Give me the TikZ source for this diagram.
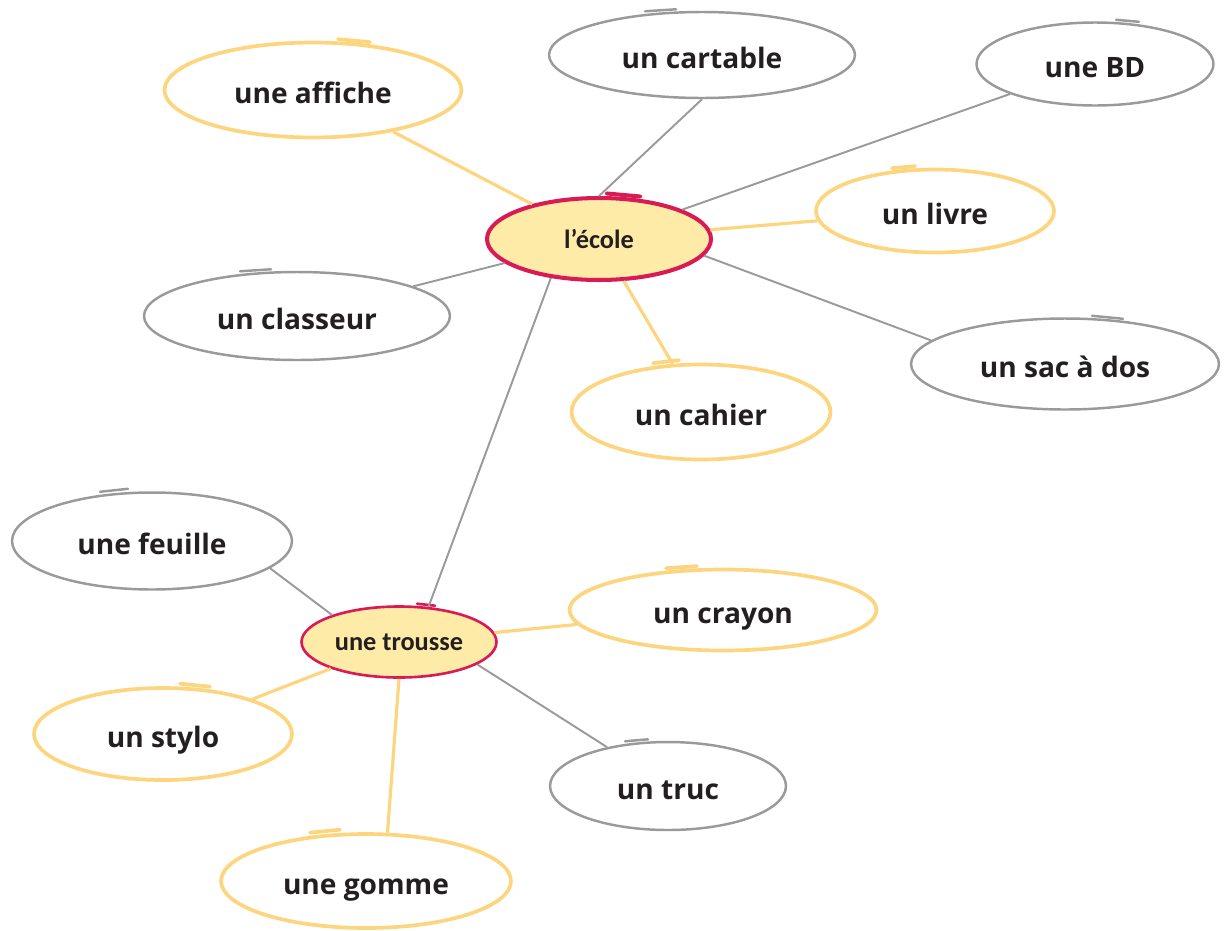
\documentclass[tikz,border=0pt]{standalone}
\usepackage{fontspec}
\usepackage{tikz}
\usetikzlibrary{shapes.geometric}

\setmainfont{Open Sans}
\newfontfamily\hubfont{Carlito}

\definecolor{leafyellow}{HTML}{FDD57E}
\definecolor{leafgray}{HTML}{9A9A9A}
\definecolor{hubred}{HTML}{D81B55}
\definecolor{hubfill}{HTML}{FEEBA8}
\definecolor{inkblack}{HTML}{231F20}

\tikzset{
  leaf/.style={ellipse,inner sep=0pt,text=inkblack,text height=15pt,text depth=0pt,font=\bfseries\fontsize{16}{16}\selectfont},
  yleaf/.style={leaf,draw=leafyellow,line width=2.1pt},
  gleaf/.style={leaf,draw=leafgray,line width=1.4pt},
  hub/.style={ellipse,inner sep=0pt,fill=hubfill,draw=hubred,text=inkblack,font=\hubfont\bfseries\fontsize{15}{15}\selectfont},
  yline/.style={leafyellow,line width=1.8pt},
  gline/.style={leafgray,line width=1.1pt},
}

% the second stroke where the hand-drawn loop closes
\newcommand{\curl}[6]{\draw[#1,line cap=round] (#2.north) ++(#3,#4) -- ++(#5,#6);}

\begin{document}
\begin{tikzpicture}[x=0.02cm,y=-0.02cm]
\useasboundingbox (0,0) rectangle (1226,930);

% centres
\node[hub,line width=2.3pt,minimum width=4.48cm,minimum height=1.64cm] (ecole) at (599,239) {l’école};
\node[hub,line width=1.5pt,minimum width=3.90cm,minimum height=1.42cm] (trousse) at (399,642) {une trousse};

% around l'école
\node[yleaf,minimum width=5.94cm,minimum height=1.90cm] (affiche) at (313,90) {une affiche};
\node[gleaf,minimum width=6.12cm,minimum height=1.72cm] (cartable) at (702,55) {un cartable};
\node[gleaf,minimum width=4.74cm,minimum height=1.66cm] (bd) at (1095,64) {une BD};
\node[yleaf,minimum width=4.76cm,minimum height=1.66cm] (livre) at (935,211) {un livre};
\node[gleaf,minimum width=6.12cm,minimum height=1.76cm] (classeur) at (297,316) {un classeur};
\node[gleaf,minimum width=6.16cm,minimum height=1.82cm] (sac) at (1065,364) {un sac à dos};
\node[yleaf,minimum width=5.18cm,minimum height=1.90cm] (cahier) at (701,412) {un cahier};

% around la trousse
\node[gleaf,minimum width=5.60cm,minimum height=1.94cm] (feuille) at (152,541) {une feuille};
\node[yleaf,minimum width=6.14cm,minimum height=1.62cm] (crayon) at (723,610) {un crayon};
\node[yleaf,minimum width=5.16cm,minimum height=1.84cm] (stylo) at (163,734) {un stylo};
\node[gleaf,minimum width=4.72cm,minimum height=1.76cm] (truc) at (668,786) {un truc};
\node[yleaf,minimum width=5.80cm,minimum height=1.88cm] (gomme) at (366,881) {une gomme};

\curl{hubred,line width=2.3pt}{ecole}{8}{-2.5}{33}{3}
\curl{hubred,line width=1.5pt}{trousse}{18}{-1.5}{18}{2}
\curl{leafyellow,line width=2.1pt}{affiche}{25}{-1.5}{32}{3}
\curl{leafgray,line width=1.4pt}{cartable}{-57}{0.5}{31}{-2}
\curl{leafgray,line width=1.4pt}{bd}{21}{-1.5}{23}{2}
\curl{leafyellow,line width=2.1pt}{livre}{-43}{0.5}{23}{-2}
\curl{leafgray,line width=1.4pt}{classeur}{-57}{0.5}{31}{-2}
\curl{leafgray,line width=1.4pt}{sac}{27}{-1.5}{31}{3}
\curl{leafyellow,line width=2.1pt}{cahier}{-48}{0.5}{26}{-3}
\curl{leafgray,line width=1.4pt}{feuille}{-52}{0.5}{28}{-3}
\curl{leafyellow,line width=2.1pt}{crayon}{-57}{0.5}{31}{-2}
\curl{leafyellow,line width=2.1pt}{stylo}{17}{-2.5}{30}{3}
\curl{leafgray,line width=1.4pt}{truc}{-43}{0.5}{23}{-2}
\curl{leafyellow,line width=2.1pt}{gomme}{-56}{0.5}{30}{-3}

% connectors
\draw[yline] (ecole) -- (affiche);
\draw[gline] (ecole.north) -- (cartable.south);
\draw[gline] (ecole) -- (bd);
\draw[yline] (ecole) -- (livre);
\draw[gline] (ecole) -- (classeur);
\draw[gline] (ecole.351) -- (sac.170);
\draw[yline] (ecole) -- (cahier);
\draw[gline] (ecole.219) -- (trousse.50);
\draw[gline] (trousse.158) -- (feuille.347);
\draw[yline] (trousse) -- (crayon);
\draw[yline] (trousse) -- (stylo);
\draw[gline] (trousse.344) -- (truc);
\draw[yline] (trousse.south) -- (gomme.66);
\end{tikzpicture}
\end{document}
